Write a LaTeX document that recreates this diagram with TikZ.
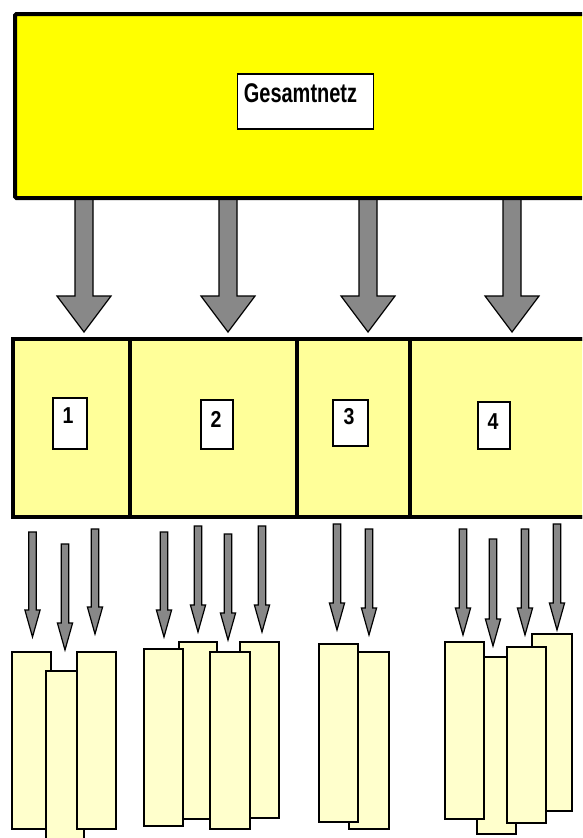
\documentclass[tikz,border=0pt]{standalone}
\usepackage{fontspec}
\setmainfont{Liberation Sans}
\usepackage{graphicx}
\definecolor{topyellow}{RGB}{255,255,0}
\definecolor{midyellow}{RGB}{255,255,153}
\definecolor{paleyellow}{RGB}{255,255,204}
\definecolor{arrowgray}{RGB}{136,136,136}
\tikzset{
  arrowshape/.style={fill=arrowgray, draw=black, line width=1.2pt, line join=miter},
  bigcell/.style={draw=black, line width=3.5pt, fill=midyellow},
  numbox/.style={draw=black, line width=1.6pt, fill=white, inner sep=0pt, anchor=north west},
  numtext/.style={font=\bfseries\fontsize{23}{23}\selectfont, inner sep=0pt},
  sheet/.style={draw=black, line width=1.8pt, fill=paleyellow}
}
% block arrow: cx, top, head base, tip, shaft half width, head half width
\newcommand\blockarr[6]{%
  \path[arrowshape] ({#1-#5},#2) -- ({#1-#5},#3) -- ({#1-#6},#3) -- (#1,#4)
    -- ({#1+#6},#3) -- ({#1+#5},#3) -- ({#1+#5},#2) -- cycle;}
\newcommand\smallarr[3]{\blockarr{#1}{#2}{#3-27}{#3}{3.8}{7.6}}
\newcommand\sheetrect[4]{\path[sheet] (#1,#2) rectangle (#3,#4);}
\begin{document}
\begin{tikzpicture}[x=1pt,y=-1pt]
\useasboundingbox (0,0) rectangle (582,838);
\clip (0,0) rectangle (582,838);
\fill[white] (0,0) rectangle (582,838);

% big arrows (drawn first, box covers their tops)
\blockarr{84}{190}{296}{332}{9}{27}
\blockarr{228}{190}{296}{332}{9}{27}
\blockarr{368}{190}{296}{332}{9}{27}
\blockarr{512}{190}{296}{332}{9}{27}

% top box
\node[draw=black, line width=4pt, fill=topyellow, rounded corners=1.5pt,
      minimum width=600pt, minimum height=184pt, inner sep=0pt, anchor=north west]
      (netz) at (13,12) {};
\node[draw=black, line width=1.6pt, fill=white, inner sep=0pt, anchor=north west,
      minimum width=136pt, minimum height=55pt] (netzbox) at (236.5,73) {};
\node[font=\bfseries\fontsize{27}{27}\selectfont, inner sep=0pt] (netzlbl) at (300.5,93)
      {\scalebox{0.74}[1]{Gesamtnetz}};

% middle row of cells
\path[bigcell] (13,339) rectangle (130,517);
\path[bigcell] (130,339) rectangle (297,517);
\path[bigcell] (297,339) rectangle (410,517);
\path[bigcell] (410,339) rectangle (600,517);
\draw[line width=3.5pt] (13,339) -- (600,339);
\draw[line width=3.5pt] (13,517) -- (600,517);

% number boxes
\node[numbox, minimum width=34pt, minimum height=51pt] (b1) at (52,397) {};
\node[numbox, minimum width=32pt, minimum height=49pt] (b2) at (200,399) {};
\node[numbox, minimum width=35pt, minimum height=46pt] (b3) at (332,399) {};
\node[numbox, minimum width=32pt, minimum height=47pt] (b4) at (477,401) {};
\node[numtext] (t1) at (68,416) {\scalebox{0.85}[1]{1}};
\node[numtext] (t2) at (216,419) {\scalebox{0.85}[1]{2}};
\node[numtext] (t3) at (349,417) {\scalebox{0.85}[1]{3}};
\node[numtext] (t4) at (493,422) {\scalebox{0.85}[1]{4}};

% small arrows
\smallarr{32.5}{532}{637}
\smallarr{65}{544}{650}
\smallarr{95}{529}{634}
\smallarr{164}{532}{637}
\smallarr{198}{526}{632}
\smallarr{228}{534}{640}
\smallarr{262}{526}{632}
\smallarr{337}{524}{630}
\smallarr{369}{529}{635}
\smallarr{463}{529}{635}
\smallarr{493}{539}{646}
\smallarr{525}{529}{635}
\smallarr{557}{524}{630}

% sheets group 1
\sheetrect{12}{652}{51}{829}
\sheetrect{46}{671}{84}{850}
\sheetrect{77}{652}{116}{829}
% group 2
\sheetrect{179}{642}{217}{819}
\sheetrect{240}{642}{279}{818}
\sheetrect{144}{649}{183}{826}
\sheetrect{210}{652}{250}{829}
% group 3
\sheetrect{349}{652}{389}{829}
\sheetrect{319}{644}{358}{822}
% group 4
\sheetrect{477}{657}{516}{834}
\sheetrect{532}{634}{572}{811}
\sheetrect{445}{642}{484}{819}
\sheetrect{507}{647}{546}{823}
\end{tikzpicture}
\end{document}
